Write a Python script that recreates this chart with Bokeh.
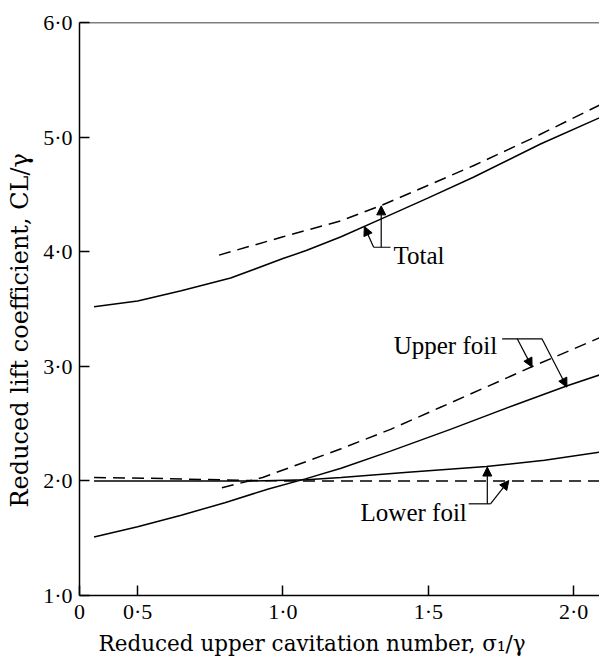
from bokeh.plotting import figure
from bokeh.models import FixedTicker, Label, Span, Arrow, NormalHead, Range1d, Title
from bokeh.embed import file_html
from bokeh.resources import INLINE

# ---------------- data ----------------
x_ticks = [0.3, 0.5, 1.0, 1.5, 2.0]
x_tick_labels = ["0", "0·5", "1·0", "1·5", "2·0"]
y_ticks = [1, 2, 3, 4, 5, 6]
y_tick_labels = ["1·0", "2·0", "3·0", "4·0", "5·0", "6·0"]

total_solid_x = [0.35, 0.50, 0.65, 0.82, 1.00, 1.08, 1.20, 1.35, 1.50, 1.655, 1.886, 2.09]
total_solid_y = [3.52, 3.57, 3.66, 3.77, 3.94, 4.01, 4.13, 4.30, 4.47, 4.65, 4.94, 5.17]
total_dash_x = [0.78, 1.00, 1.20, 1.335, 1.50, 1.655, 1.85, 2.09]
total_dash_y = [3.97, 4.13, 4.27, 4.40, 4.58, 4.75, 4.98, 5.28]

upper_solid_x = [0.35, 0.50, 0.65, 0.80, 0.95, 1.08, 1.20, 1.37, 1.576, 1.80, 1.978, 2.09]
upper_solid_y = [1.51, 1.60, 1.70, 1.81, 1.93, 2.02, 2.11, 2.26, 2.45, 2.665, 2.83, 2.925]
upper_dash_x = [0.79, 0.93, 1.20, 1.37, 1.54, 1.86, 2.09]
upper_dash_y = [1.94, 2.03, 2.28, 2.45, 2.64, 3.00, 3.25]

lower_solid_x = [0.35, 0.90, 1.08, 1.20, 1.43, 1.70, 1.90, 2.09]
lower_solid_y = [2.00, 2.00, 2.01, 2.03, 2.075, 2.125, 2.18, 2.25]
lower_dash_x = [0.35, 0.60, 0.85, 1.00, 2.09]
lower_dash_y = [2.03, 2.02, 2.005, 2.00, 2.00]

x_title = "Reduced upper cavitation number, σ₁/γ"
y_title = "Reduced lift coefficient, CL/γ"

# ---------------- annotation positions (data units) ----------------
total_text = (1.38, 3.967)
total_leader = [(1.312, 4.039, 1.370, 4.039)]
total_arrows = [(1.338, 4.039, 1.338, 4.40), (1.312, 4.039, 1.280, 4.22)]

upper_text = (1.381, 3.181)
upper_leader = [(1.754, 3.240, 1.891, 3.240)]
upper_arrows = [(1.806, 3.240, 1.857, 2.993), (1.891, 3.240, 1.977, 2.818)]

lower_text = (1.267, 1.727)
lower_leader = [(1.639, 1.800, 1.714, 1.800)]
lower_arrows = [(1.703, 1.800, 1.703, 2.121), (1.714, 1.800, 1.777, 2.003)]

SERIF = "Liberation Serif"
TITLE_FONT = "DejaVu Serif"

p = figure(width=599, height=658,
           x_range=Range1d(0.3, 2.089), y_range=Range1d(1.0, 6.0),
           output_backend="svg", toolbar_location=None,
           min_border_left=79, min_border_right=0, min_border_top=22, min_border_bottom=63)
p.outline_line_color = None
p.grid.grid_line_color = None
p.background_fill_color = "white"
p.border_fill_color = "white"

p.xaxis.ticker = FixedTicker(ticks=x_ticks)
p.xaxis.major_label_overrides = dict(zip(x_ticks, x_tick_labels))
p.yaxis.ticker = FixedTicker(ticks=y_ticks)
p.yaxis.major_label_overrides = dict(zip(y_ticks, y_tick_labels))

for ax in (p.xaxis[0], p.yaxis[0]):
    ax.major_tick_in = 10
    ax.major_tick_out = 0
    ax.minor_tick_line_color = None
    ax.axis_line_width = 1.5
    ax.axis_line_color = "black"
    ax.major_tick_line_width = 1.5
    ax.major_tick_line_color = "black"
    ax.major_label_text_font = SERIF
    ax.major_label_text_font_size = "22px"
    ax.major_label_text_color = "black"
p.yaxis.major_label_standoff = 7
p.xaxis.major_label_standoff = 3

# axis titles as side titles so that they can be placed off-centre like the reference
p.add_layout(Title(text=x_title, align="left", offset=19, standoff=5, vertical_align="bottom",
                   text_font=TITLE_FONT, text_font_size="21.5px", text_font_style="normal",
                   text_color="black"), "below")
p.add_layout(Title(text=y_title, align="left", offset=88, standoff=9, vertical_align="top",
                   text_font=TITLE_FONT, text_font_size="24px", text_font_style="normal",
                   text_color="black"), "left")

p.add_layout(Span(location=6.0, dimension="width", line_color="black", line_width=1.5))

solid = dict(line_color="black", line_width=1.5)
dashed = dict(line_color="black", line_width=1.5, line_dash="12 7")
p.line(total_solid_x, total_solid_y, **solid)
p.line(total_dash_x, total_dash_y, **dashed)
p.line(upper_solid_x, upper_solid_y, **solid)
p.line(upper_dash_x, upper_dash_y, **dashed)
p.line(lower_solid_x, lower_solid_y, **solid)
p.line(lower_dash_x, lower_dash_y, **dashed)

def leaders(segs):
    for x0, y0, x1, y1 in segs:
        p.add_layout(Arrow(end=None, x_start=x0, y_start=y0, x_end=x1, y_end=y1,
                           line_color="black", line_width=1.2))

def arrows(segs):
    for x0, y0, x1, y1 in segs:
        p.add_layout(Arrow(end=NormalHead(size=9, fill_color="black", line_color="black", line_width=1),
                           x_start=x0, y_start=y0, x_end=x1, y_end=y1,
                           line_color="black", line_width=1.2))

for txt, pos, lead, arr in [("Total", total_text, total_leader, total_arrows),
                            ("Upper foil", upper_text, upper_leader, upper_arrows),
                            ("Lower foil", lower_text, lower_leader, lower_arrows)]:
    p.add_layout(Label(x=pos[0], y=pos[1], text=txt, text_font=SERIF, text_font_size="25px",
                       text_color="black", text_baseline="alphabetic", text_align="left"))
    leaders(lead)
    arrows(arr)

open("out.html", "w").write(file_html(p, INLINE))
